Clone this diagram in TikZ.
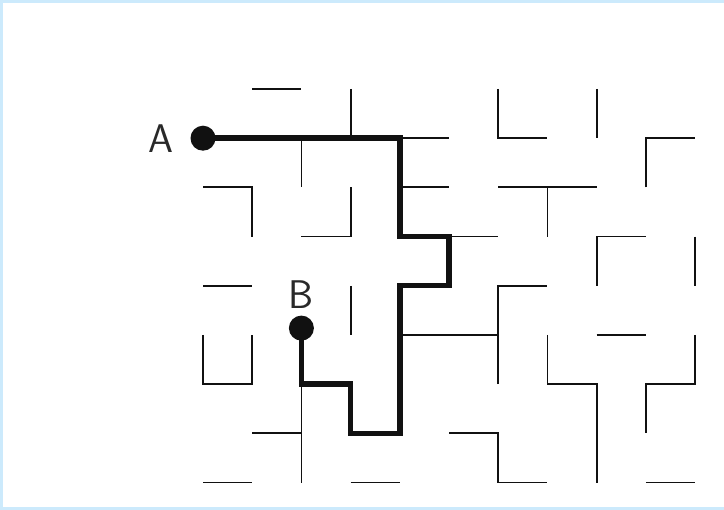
\documentclass[tikz,border=0pt]{standalone}
\usepackage{tikz}
\usetikzlibrary{positioning}
\definecolor{frame}{RGB}{204,234,252}
\definecolor{ink}{HTML}{111111}

\begin{document}
\begin{tikzpicture}[
  wall/.style={draw=ink, line width=1.8pt},
  route/.style={draw=ink, line width=5.4pt, line join=miter},
  endpt/.style={circle, fill=ink, inner sep=0pt, minimum size=25pt},
  tag/.style={font=\sffamily\fontsize{40}{40}\selectfont, text=ink!90, inner sep=0pt}
]
  % Frame
  \fill[frame] (0pt,0pt) rectangle (724pt,-510pt);
  \fill[white] (3pt,-3pt) rectangle (724pt,-507pt);
  \useasboundingbox (0pt,0pt) rectangle (724pt,-510pt);

  \begin{scope}[shift={(203pt,-89pt)}, x=49.2pt, y=-49.2pt]
    % Maze walls, rows 0--2
    \draw[wall] (1,0) -- (2,0);
    \draw[wall] (3,0) -- (3,1);
    \draw[wall] (4,1) -- (5,1);
    \draw[wall] (6,0) -- (6,1) -- (7,1);
    \draw[wall] (8,0) -- (8,1);
    \draw[wall] (9,2) -- (9,1) -- (10,1);
    \draw[wall] (2,1) -- (2,2);
    \draw[wall] (0,2) -- (1,2) -- (1,3);
    \draw[wall] (3,2) -- (3,3) -- (2,3);
    \draw[wall] (4,2) -- (5,2);
    \draw[wall] (6,2) -- (8,2);
    \draw[wall] (7,2) -- (7,3);

    % Maze walls, rows 3--5
    \draw[wall] (5,3) -- (6,3);
    \draw[wall] (8,4) -- (8,3) -- (9,3);
    \draw[wall] (10,3) -- (10,4);
    \draw[wall] (0,4) -- (1,4);
    \draw[wall] (3,4) -- (3,5);
    \draw[wall] (6,6) -- (6,4) -- (7,4);
    \draw[wall] (4,5) -- (6,5);
    \draw[wall] (0,5) -- (0,6) -- (1,6) -- (1,5);
    \draw[wall] (8,5) -- (9,5);

    % Maze walls, rows 6--8
    \draw[wall] (7,5) -- (7,6) -- (8,6) -- (8,8);
    \draw[wall] (10,5) -- (10,6) -- (9,6) -- (9,7);
    \draw[wall] (2,6) -- (2,8);
    \draw[wall] (1,7) -- (2,7);
    \draw[wall] (5,7) -- (6,7) -- (6,8) -- (7,8);
    \draw[wall] (0,8) -- (1,8);
    \draw[wall] (3,8) -- (4,8);
    \draw[wall] (9,8) -- (10,8);

    % End points
    \node[endpt] (dotA) at (0,1) {};
    \node[endpt] (dotB) at (2,4.86) {};
    \node[tag, left=17pt of dotA] (labA) {A};
    \node[tag, above=7pt of dotB] (labB) {B};

    % Route from A to B
    \draw[route] (dotA.center) -- (4,1) -- (4,3) -- (5,3) -- (5,4) -- (4,4)
      -- (4,7) -- (3,7) -- (3,6) -- (2,6) -- (dotB.center);
  \end{scope}
\end{tikzpicture}
\end{document}
